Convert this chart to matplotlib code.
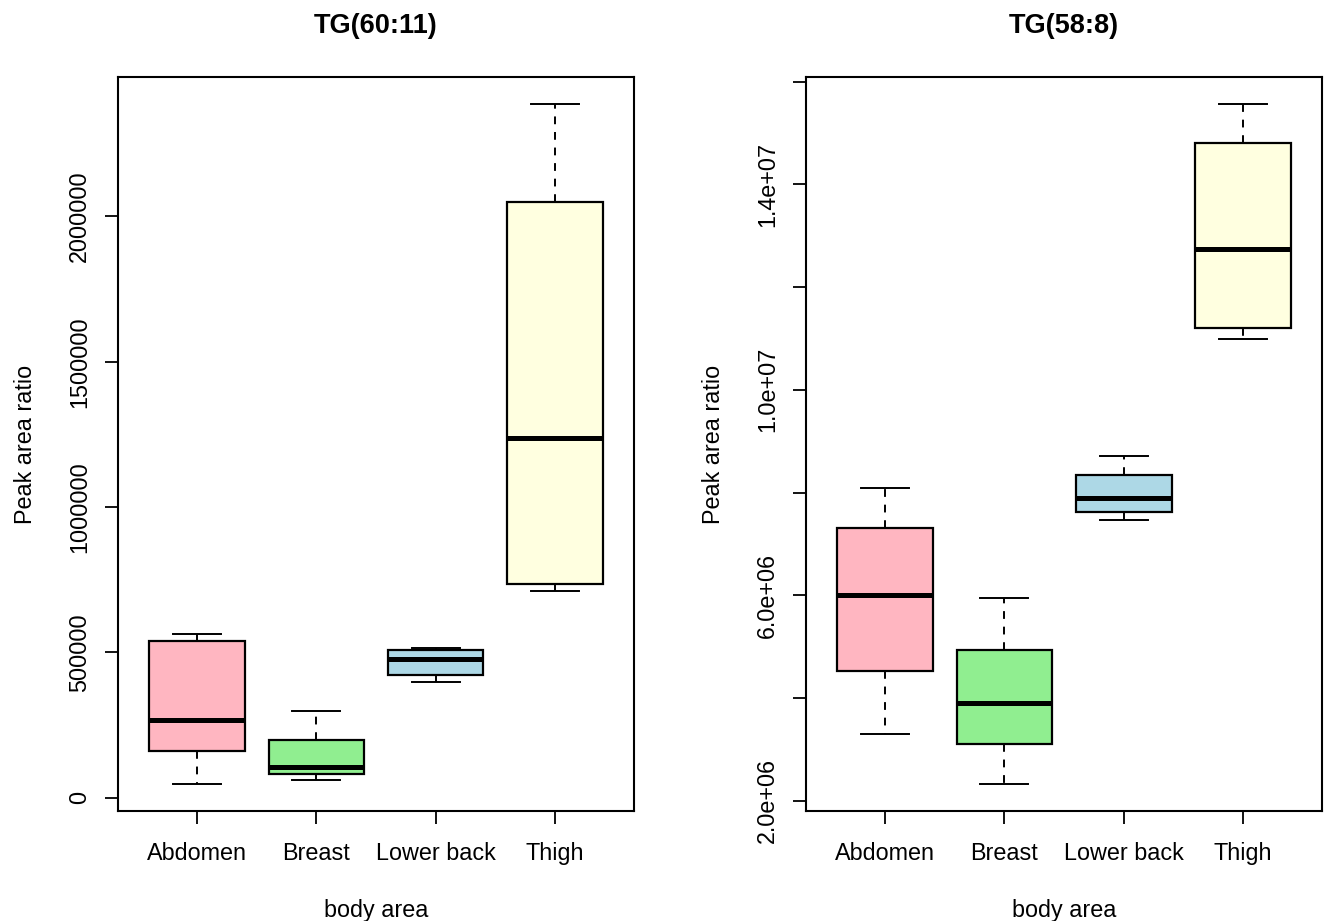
import matplotlib
matplotlib.use("Agg")
import matplotlib.pyplot as plt

plt.rcParams['font.family'] = ['Liberation Sans', 'DejaVu Sans']

# body areas and box colours
areas = ['Abdomen', 'Breast', 'Lower back', 'Thigh']
colors = ['#FFB6C1', '#90EE90', '#ADD8E6', '#FFFFE0']

# TG(60:11) five-number summaries
tg60_low = [48000, 62000, 397000, 710000]
tg60_q1 = [162000, 83000, 421000, 734000]
tg60_med = [269000, 107000, 479000, 1238000]
tg60_q3 = [538000, 200000, 510000, 2048000]
tg60_high = [562000, 297000, 514000, 2386000]

# TG(58:8) five-number summaries
tg58_low = [3.29e6, 2.33e6, 7.46e6, 10.98e6]
tg58_q1 = [4.52e6, 3.11e6, 7.62e6, 11.21e6]
tg58_med = [6.00e6, 3.91e6, 7.89e6, 12.75e6]
tg58_q3 = [7.31e6, 4.93e6, 8.34e6, 14.80e6]
tg58_high = [8.09e6, 5.94e6, 8.71e6, 15.56e6]

tg60_ticks = [0, 500000, 1000000, 1500000, 2000000]
tg60_labels = ['0', '500000', '1000000', '1500000', '2000000']
tg58_ticks = [2e6, 4e6, 6e6, 8e6, 1e7, 1.2e7, 1.4e7, 1.6e7]
tg58_labels = ['2.0e+06', '', '6.0e+06', '', '1.0e+07', '', '1.4e+07', '']


def draw_panel(ax, title, low, q1, med, q3, high, ticks, labels):
    stats = []
    for i in range(len(areas)):
        stats.append(dict(whislo=low[i], q1=q1[i], med=med[i], q3=q3[i],
                          whishi=high[i], fliers=[], label=areas[i]))
    bp = ax.bxp(stats, positions=range(1, 5), widths=0.8, capwidths=0.4,
                patch_artist=True, showfliers=False,
                boxprops=dict(edgecolor='black', linewidth=1.6),
                whiskerprops=dict(color='black', linewidth=1.4, linestyle=(0, (4, 4))),
                capprops=dict(color='black', linewidth=1.4),
                medianprops=dict(color='black', linewidth=3.6, solid_capstyle='butt'))
    for patch, c in zip(bp['boxes'], colors):
        patch.set_facecolor(c)

    # R style: 4% padding around the data range
    lo, hi = min(low), max(high)
    ext = (hi - lo) * 0.04
    ax.set_ylim(lo - ext, hi + ext)
    ax.set_xlim(0.34, 4.66)

    ax.set_yticks(ticks)
    ax.set_yticklabels(labels, rotation=90, va='center')
    ax.tick_params(axis='both', length=9.5, width=1.3, labelsize=16.8, direction='out')
    ax.tick_params(axis='x', pad=13)
    ax.tick_params(axis='y', pad=10)
    for sp in ax.spines.values():
        sp.set_linewidth(1.5)

    ax.set_title(title, fontsize=19.5, fontweight='bold', pad=32)
    ax.set_xlabel('body area', fontsize=16.8, labelpad=24)
    ax.set_ylabel('Peak area ratio', fontsize=16.8, labelpad=22)


fig = plt.figure(figsize=(13.25, 9.21), dpi=100)
ax1 = fig.add_axes([118 / 1325, 110 / 921, 516 / 1325, 734 / 921])
ax2 = fig.add_axes([806 / 1325, 110 / 921, 516 / 1325, 734 / 921])

draw_panel(ax1, 'TG(60:11)', tg60_low, tg60_q1, tg60_med, tg60_q3, tg60_high,
           tg60_ticks, tg60_labels)
draw_panel(ax2, 'TG(58:8)', tg58_low, tg58_q1, tg58_med, tg58_q3, tg58_high,
           tg58_ticks, tg58_labels)

fig.savefig('out.png', dpi=100)
